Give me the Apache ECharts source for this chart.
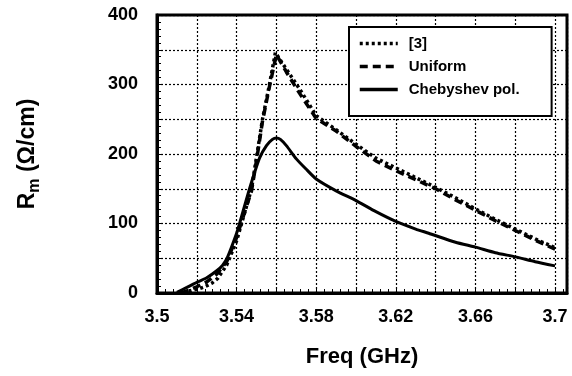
<!DOCTYPE html>
<html>
<head>
<meta charset="utf-8">
<script src="https://cdn.jsdelivr.net/npm/echarts@6/dist/echarts.min.js"></script>
<style>
  html, body { margin: 0; padding: 0; background: #fff; }
  #chart { width: 572px; height: 376px; }
</style>
</head>
<body>
<div id="chart"></div>
<script>
// frequency in GHz, Rm in ohm/cm
const refFreq = [3.513, 3.5175, 3.521, 3.524, 3.5275, 3.5305, 3.535, 3.54, 3.545, 3.5475, 3.55, 3.553, 3.5565, 3.5595, 3.562, 3.565, 3.572, 3.58, 3.59, 3.60, 3.61, 3.62, 3.63, 3.64, 3.65, 3.66, 3.67, 3.68, 3.69, 3.70];
const refRm = [0, 4, 6, 9, 14, 21, 40, 75, 125, 150, 195, 250, 300, 346, 335, 322, 292, 255, 235, 214, 194, 180, 166, 152, 137, 121, 106, 92, 78, 65];

const uniFreq = [3.512, 3.516, 3.52, 3.525, 3.53, 3.535, 3.54, 3.545, 3.5475, 3.5505, 3.553, 3.5565, 3.56, 3.565, 3.5715, 3.58, 3.59, 3.60, 3.61, 3.62, 3.63, 3.64, 3.65, 3.66, 3.67, 3.68, 3.69, 3.70];
const uniRm = [0, 4, 9, 16, 27, 45, 80, 125, 147, 200, 247, 297, 343, 318, 288, 251, 233, 211, 190, 176, 163, 150, 134, 119, 104, 90, 76, 63];

const chebFreq = [3.51, 3.515, 3.5205, 3.525, 3.53, 3.533, 3.5355, 3.54, 3.5415, 3.5465, 3.5515, 3.555, 3.558, 3.56, 3.562, 3.565, 3.57, 3.575, 3.58, 3.59, 3.60, 3.61, 3.62, 3.63, 3.6365, 3.65, 3.66, 3.67, 3.68, 3.69, 3.70];
const chebRm = [1, 8, 16, 22, 32, 40, 52, 86, 100, 150, 194, 212, 221, 223, 221, 212, 193, 178, 164, 147, 133, 117, 103, 92, 86, 73, 66, 58, 52, 45, 39];

const seriesNames = ['[3]', 'Uniform', 'Chebyshev pol.'];

const zip = (xs, ys) => xs.map((x, i) => [x, ys[i]]);

const chart = echarts.init(document.getElementById('chart'));

const font = 'Liberation Sans, Arial, Helvetica, sans-serif';

const option = {
  backgroundColor: '#fff',
  animation: false,
  grid: {
    left: 157,
    right: 5,
    top: 15,
    bottom: 83,
    show: true,
    borderColor: '#000',
    borderWidth: 3,
    backgroundColor: 'transparent'
  },
  legend: {
    data: seriesNames,
    orient: 'vertical',
    left: 349,
    top: 27,
    itemWidth: 38,
    itemHeight: 14,
    itemGap: 8,
    padding: [9, 32, 19, 9],
    backgroundColor: '#fff',
    borderColor: '#000',
    borderWidth: 2,
    borderRadius: 0,
    itemStyle: { opacity: 0 },
    lineStyle: { width: 3.5 },
    textStyle: {
      color: '#000',
      fontFamily: font,
      fontWeight: 'bold',
      fontSize: 15,
      padding: [0, 0, 0, 6]
    }
  },
  xAxis: {
    type: 'value',
    min: 3.5,
    max: 3.706,
    interval: 0.02,
    name: 'Freq (GHz)',
    nameLocation: 'middle',
    nameGap: 53,
    nameTextStyle: {
      color: '#000',
      fontFamily: font,
      fontWeight: 'bold',
      fontSize: 22
    },
    axisLine: { show: true, lineStyle: { color: '#000', width: 3 } },
    axisTick: { show: true, inside: true, length: 6, lineStyle: { color: '#000' } },
    minorTick: { show: true, splitNumber: 5, length: 4, lineStyle: { color: '#000' } },
    splitLine: { show: true, lineStyle: { color: '#000', type: [2, 2], width: 1.2 } },
    axisLabel: {
      color: '#000',
      fontFamily: font,
      fontWeight: 'bold',
      fontSize: 18,
      margin: 15,
      formatter: v => {
        const k = (v - 3.5) / 0.02;
        const r = Math.round(k);
        if (Math.abs(k - r) > 1e-6 || r % 2 !== 0) return '';
        return String(Number(v.toFixed(2)));
      }
    }
  },
  yAxis: {
    type: 'value',
    min: 0,
    max: 400,
    interval: 50,
    name: '{a|R}{b|m}{a| (Ω/cm)}',
    nameLocation: 'middle',
    nameRotate: 90,
    nameGap: 114,
    nameTextStyle: {
      rich: {
        a: { color: '#000', fontFamily: font, fontWeight: 'bold', fontSize: 23, lineHeight: 30 },
        b: { color: '#000', fontFamily: font, fontWeight: 'bold', fontSize: 16, lineHeight: 14, verticalAlign: 'bottom' }
      }
    },
    axisLine: { show: true, lineStyle: { color: '#000', width: 3 } },
    axisTick: { show: true, inside: true, length: 6, lineStyle: { color: '#000' } },
    minorTick: { show: true, splitNumber: 5, length: 4, lineStyle: { color: '#000' } },
    splitLine: { show: true, lineStyle: { color: '#000', type: [2, 2], width: 1.2 } },
    axisLabel: {
      color: '#000',
      fontFamily: font,
      fontWeight: 'bold',
      fontSize: 18,
      margin: 19,
      formatter: v => (v % 100 === 0 ? String(v) : '')
    }
  },
  series: [
    {
      name: seriesNames[0],
      type: 'line',
      data: zip(refFreq, refRm),
      symbol: 'none',
      smooth: false,
      lineStyle: { color: '#000', width: 3.5, type: [3, 3], cap: 'butt' },
      itemStyle: { color: '#000' },
      z: 3
    },
    {
      name: seriesNames[1],
      type: 'line',
      data: zip(uniFreq, uniRm),
      symbol: 'none',
      smooth: false,
      lineStyle: { color: '#000', width: 3.5, type: [8, 5], cap: 'butt' },
      itemStyle: { color: '#000' },
      z: 4
    },
    {
      name: seriesNames[2],
      type: 'line',
      data: zip(chebFreq, chebRm),
      symbol: 'none',
      smooth: 0.2,
      lineStyle: { color: '#000', width: 3, type: 'solid' },
      itemStyle: { color: '#000' },
      z: 5
    }
  ]
};

chart.setOption(option);
window.addEventListener('resize', () => chart.resize());
</script>
</body>
</html>
